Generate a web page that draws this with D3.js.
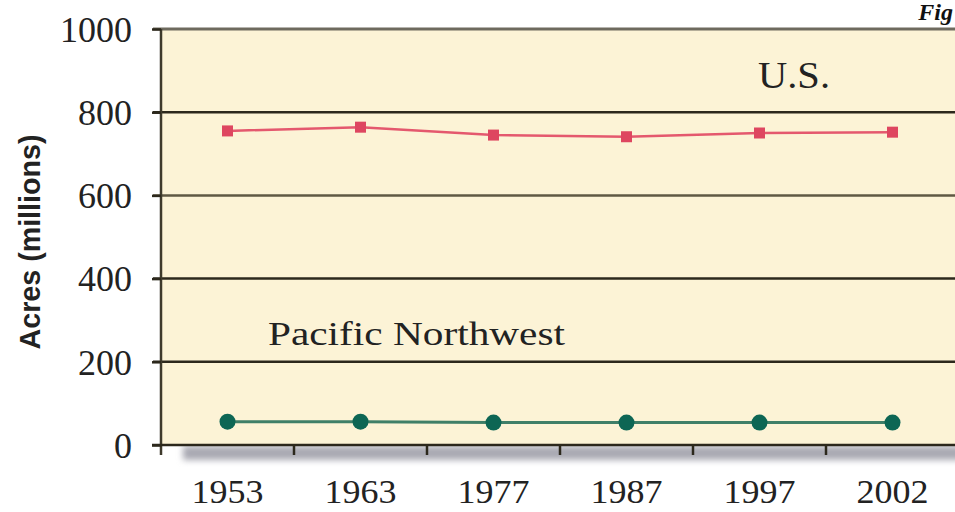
<!DOCTYPE html>
<html><head><meta charset="utf-8">
<script src="https://cdn.jsdelivr.net/npm/d3@7"></script>
<style>body{margin:0;background:#fff;}svg{display:block;}</style>
</head><body>
<svg id="c" width="955" height="512"></svg>
<script>
const years = ["1953","1963","1977","1987","1997","2002"];
const usAcres = [755, 764, 745, 741, 750, 752];
const pnwAcres = [56, 56, 54, 54, 54, 54];
const yTicks = [0, 200, 400, 600, 800, 1000];
const yLabel = "Acres (millions)";
const usLabel = "U.S.";
const pnwLabel = "Pacific Northwest";

const svg = d3.select("#c");
const L = 161, R = 959, T = 29, B = 445;
const x = d3.scaleBand().domain(years).range([L, R]);
const y = d3.scaleLinear().domain([0, 1000]).range([B, T]);
const serif = "'Liberation Serif', 'Times New Roman', serif";

const defs = svg.append("defs");
const f = defs.append("filter").attr("id","blur").attr("x","-10%").attr("y","-50%").attr("width","120%").attr("height","200%");
f.append("feGaussianBlur").attr("stdDeviation", 3);

// shadow
svg.append("rect").attr("x", L + 22).attr("y", B + 1).attr("width", R - L).attr("height", 14)
  .attr("fill", "#a9a9b2").attr("filter", "url(#blur)");

// plot background
svg.append("rect").attr("x", L).attr("y", T).attr("width", R - L).attr("height", B - T).attr("fill", "#fcf3d6");

// grid lines
svg.append("g").selectAll("line").data(yTicks.filter(d => d > 0 && d < 1000)).join("line")
  .attr("x1", L - 8).attr("x2", R).attr("y1", d => y(d)).attr("y2", d => y(d))
  .attr("stroke", d => d === 600 ? "#5f5843" : "#2c281c").attr("stroke-width", 2.5);
// top border
svg.append("line").attr("x1", L - 8).attr("x2", R).attr("y1", y(1000)).attr("y2", y(1000))
  .attr("stroke", "#6e6a5e").attr("stroke-width", 3);

// y axis
const yAxis = svg.append("g").attr("transform", `translate(${L},0)`)
  .call(d3.axisLeft(y).tickValues(yTicks).tickFormat(d3.format("d")).tickSize(9).tickPadding(20));
yAxis.select(".domain").attr("d", `M0,${T}V${B + 10}`).attr("stroke", "#3e3a2c").attr("stroke-width", 2.5);
yAxis.selectAll(".tick line").attr("stroke", "#2c281c").attr("stroke-width", 2.5);
yAxis.selectAll(".tick text").attr("font-family", serif)
  .attr("font-size", 36).attr("fill", "#222").attr("dy", "0.34em");

// x axis
const xAxis = svg.append("g").attr("transform", `translate(0,${B})`)
  .call(d3.axisBottom(x).tickSize(0).tickPadding(34));
xAxis.select(".domain").attr("d", `M${L - 9},0H${R}`).attr("stroke", "#2c281c").attr("stroke-width", 2.5);
xAxis.selectAll(".tick text").attr("font-family", serif)
  .attr("font-size", 34).attr("fill", "#222")
  .attr("textLength", 72).attr("lengthAdjust", "spacingAndGlyphs");
// band boundary ticks
xAxis.append("g").selectAll("line").data(years.slice(1)).join("line")
  .attr("x1", d => x(d)).attr("x2", d => x(d)).attr("y1", 0).attr("y2", 10)
  .attr("stroke", "#2c281c").attr("stroke-width", 2.5);

const cx = d => x(d) + x.bandwidth() / 2;

// US line
const usData = years.map((yr, i) => ({yr, v: usAcres[i]}));
svg.append("path").datum(usData)
  .attr("d", d3.line().x(d => cx(d.yr)).y(d => y(d.v)))
  .attr("fill", "none").attr("stroke", "#e4586e").attr("stroke-width", 2.5);
svg.append("g").selectAll("rect").data(usData).join("rect")
  .attr("x", d => cx(d.yr) - 5.5).attr("y", d => y(d.v) - 5.5)
  .attr("width", 11).attr("height", 11).attr("fill", "#de4660");

// PNW line
const pnwData = years.map((yr, i) => ({yr, v: pnwAcres[i]}));
svg.append("path").datum(pnwData)
  .attr("d", d3.line().x(d => cx(d.yr)).y(d => y(d.v)))
  .attr("fill", "none").attr("stroke", "#3f7f68").attr("stroke-width", 3);
svg.append("g").selectAll("circle").data(pnwData).join("circle")
  .attr("cx", d => cx(d.yr)).attr("cy", d => y(d.v)).attr("r", 8).attr("fill", "#0d6654");

// labels
svg.append("text").attr("x", 758).attr("y", 88).text(usLabel)
  .attr("font-family", serif).attr("font-size", 38).attr("fill", "#222")
  .attr("textLength", 72).attr("lengthAdjust", "spacingAndGlyphs");
svg.append("text").attr("x", 268).attr("y", 345).text(pnwLabel)
  .attr("font-family", serif).attr("font-size", 34).attr("fill", "#222")
  .attr("textLength", 297).attr("lengthAdjust", "spacingAndGlyphs");

svg.append("text").attr("transform", "translate(40,242) rotate(-90)").attr("text-anchor", "middle")
  .text(yLabel).attr("font-family", "'Liberation Sans', Arial, sans-serif").attr("font-weight", "bold")
  .attr("font-size", 29).attr("fill", "#222")
  .attr("textLength", 215).attr("lengthAdjust", "spacingAndGlyphs");

svg.append("text").attr("x", 953).attr("y", 20).attr("text-anchor", "end").text("Fig")
  .attr("font-family", serif).attr("font-style", "italic").attr("font-weight", "bold")
  .attr("font-size", 24).attr("fill", "#111");
</script>
</body></html>
